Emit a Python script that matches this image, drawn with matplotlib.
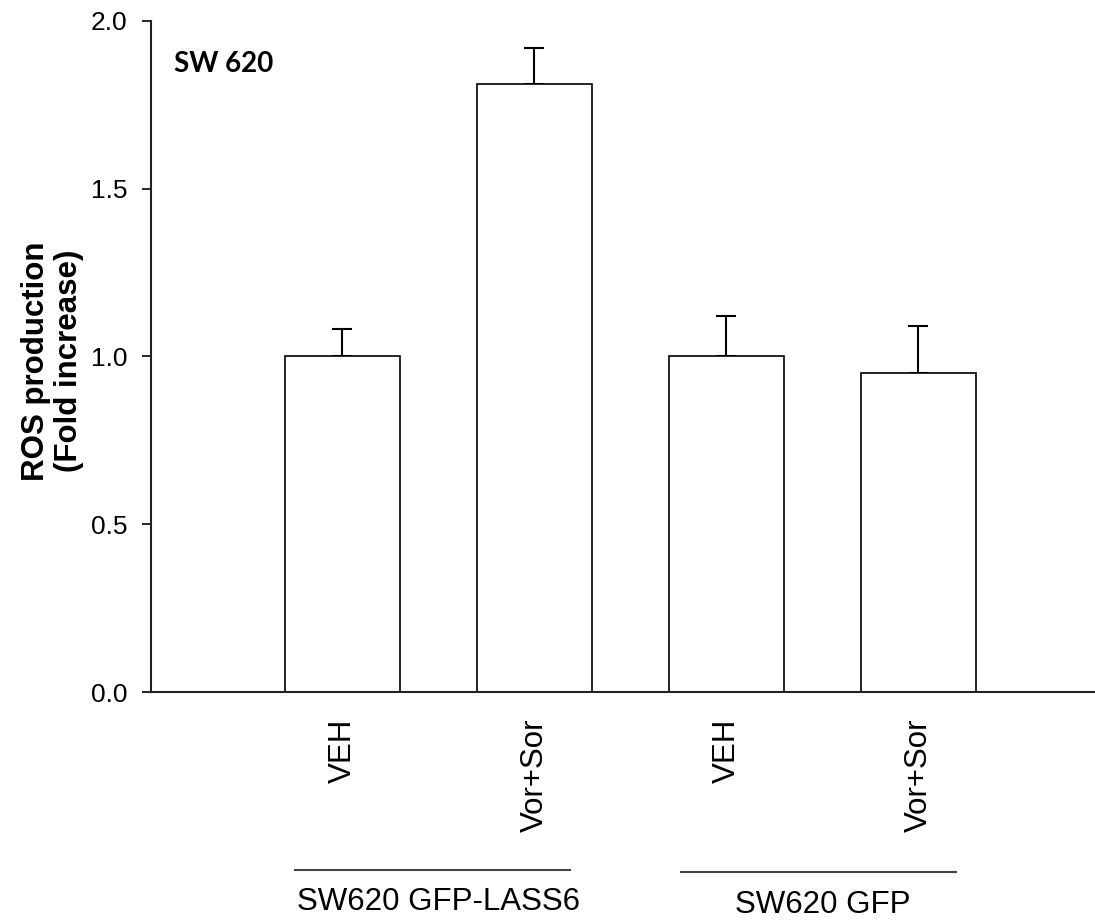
import matplotlib
matplotlib.use("Agg")
import matplotlib.pyplot as plt

# ---- data ----
categories = ["VEH", "Vor+Sor", "VEH", "Vor+Sor"]
values = [1.00, 1.81, 1.00, 0.95]
errors = [0.08, 0.11, 0.12, 0.14]
groups = ["SW620 GFP-LASS6", "SW620 GFP"]
group_members = [[0, 1], [2, 3]]
yticks = [0.0, 0.5, 1.0, 1.5, 2.0]
ytick_labels = ["0.0", "0.5", "1.0", "1.5", "2.0"]
ylabel = "ROS production\n(Fold increase)"
panel_title = "SW 620"

W, H, DPI = 1095, 922, 100
fig = plt.figure(figsize=(W / DPI, H / DPI), dpi=DPI)
ax_left, ax_right, ax_bottom, ax_top = 150.5, 1095, 692, 20.7
ax = fig.add_axes([ax_left / W, (H - ax_bottom) / H,
                   (ax_right - ax_left) / W, (ax_bottom - ax_top) / H])

x = list(range(len(categories)))
ax.bar(x, values, width=0.6, color="white", edgecolor="black", linewidth=1.2, zorder=2)
ax.errorbar(x, values, yerr=[[0] * len(errors), errors], fmt="none",
            ecolor="black", elinewidth=1.5, capsize=7, capthick=1.5, zorder=1)

ax.set_ylim(0, 2.0)
ax.set_xlim(-1.0, 3.92)
ax.set_yticks(yticks)
ax.set_yticklabels(ytick_labels, fontfamily="Liberation Sans", fontsize=19)
ax.set_xticks(x)
ax.set_xticklabels(categories, rotation=90, fontfamily="Liberation Sans", fontsize=22.5,
                   va="top", ha="center")
ax.tick_params(axis="x", length=0, pad=19)
ax.tick_params(axis="y", length=6.8, width=1.2, pad=10, direction="out")

for s in ["top", "right"]:
    ax.spines[s].set_visible(False)
for s in ["left", "bottom"]:
    ax.spines[s].set_linewidth(1.5)
    ax.spines[s].set_color("#222222")

ax.set_ylabel(ylabel, fontfamily="Liberation Sans", fontweight="bold", fontsize=22.5,
              linespacing=1.15)
ax.yaxis.set_label_coords(-0.0704, 0.493)

ax.text(0.0249, 0.9236, panel_title, transform=ax.transAxes, fontfamily="Lato",
        fontweight="bold", fontsize=20, va="baseline", ha="left")

# group annotations below axis
trans = ax.get_xaxis_transform()
line_y = [-0.265, -0.268]
text_y = [-0.2904, -0.2949]
line_shift = [-0.03, -0.02]
for gi, (name, mem) in enumerate(zip(groups, group_members)):
    c = sum(mem) / len(mem)
    ax.plot([c + line_shift[gi] - 0.716, c + line_shift[gi] + 0.716], [line_y[gi]] * 2,
            transform=trans, color="#444444", linewidth=1.5, clip_on=False)
    ax.text(c, text_y[gi], name, transform=trans, ha="center", va="top",
            fontfamily="Liberation Sans", fontsize=22.5)

fig.savefig("out.png", dpi=DPI)
